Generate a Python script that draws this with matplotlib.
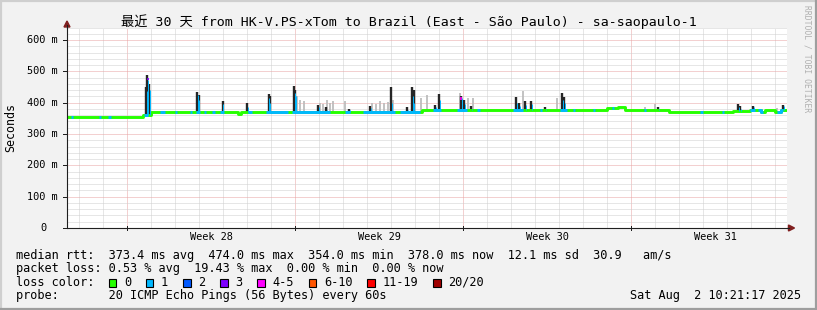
import matplotlib
matplotlib.use("Agg")
import matplotlib.pyplot as plt
import numpy as np
from matplotlib.patches import Polygon, Rectangle

W, H = 817, 310

# ---- data ----
title = "最近 30 天 from HK-V.PS-xTom to Brazil (East - São Paulo) - sa-saopaulo-1"
week_starts = [2.5, 9.5, 16.5, 23.5]          # days since start of the 30-day window
week_labels = ["Week 28", "Week 29", "Week 30", "Week 31"]
y_ticks_ms = [0, 100, 200, 300, 400, 500, 600]
y_tick_labels = ["0", "100 m", "200 m", "300 m", "400 m", "500 m", "600 m"]

# median rtt baseline: level (ms) holding from each start day
base_start = [0.0, 3.15, 3.5, 7.12, 7.25, 14.8, 22.5, 22.96, 23.25, 25.08,
              27.75, 28.45, 28.9, 29.1, 29.5, 29.75]
base_ms = [355, 362, 371, 363, 371, 376, 382, 385, 377, 370,
           372, 378, 371, 378, 371, 377]

# dark smoke spikes: day, top of smoke (ms), median peak (ms)
spike_day = [3.29, 3.35, 3.42, 5.42, 5.48, 6.48, 7.52, 8.40, 8.44, 9.46,
             9.52, 10.46, 10.79, 11.75, 12.63, 13.50, 14.17, 14.38, 14.44, 15.35,
             15.50, 16.42, 16.56, 16.83, 18.71, 18.83, 19.08, 19.33, 19.92, 20.63,
             20.71, 24.63, 27.96, 28.04, 28.58, 29.83]
spike_top = [450, 489, 460, 433, 425, 406, 398, 428, 420, 452,
             440, 392, 385, 381, 390, 449, 385, 450, 440, 392,
             428, 420, 408, 390, 418, 398, 405, 405, 385, 431,
             418, 385, 396, 388, 390, 394]
spike_med = [437, 474, 440, 425, 410, 395, 385, 415, 400, 430,
             420, 385, 378, 376, 383, 400, 378, 420, 400, 385,
             410, 415, 395, 380, 400, 390, 392, 395, 380, 410,
             400, 380, 385, 380, 385, 388]

# light smoke
smoke_day = [9.58, 9.71, 9.88, 10.54, 10.67, 10.83, 10.96, 11.08, 11.58, 12.71,
             12.88, 13.04, 13.21, 13.38, 13.58, 14.75, 14.98, 16.38, 16.71, 16.92,
             18.99, 20.42, 24.08, 24.50, 28.96, 29.58]
smoke_top = [420, 410, 405, 400, 395, 410, 400, 405, 405, 400,
             395, 405, 398, 403, 410, 415, 425, 431, 415, 416,
             438, 415, 385, 396, 380, 383]

# stretches with 1 of 20 pings lost
loss1_start = [0.17, 1.33, 1.71, 3.20, 3.88, 4.50, 5.13, 5.38, 5.71, 6.04,
               6.38, 7.54, 8.29, 9.38, 11.58, 12.33, 13.88, 15.25, 16.25, 17.08,
               18.58, 19.71, 20.54, 21.08, 21.92, 22.71, 24.04, 26.38, 27.29, 28.46,
               28.79, 29.58]
loss1_end = [0.25, 1.42, 1.83, 3.375, 4.08, 4.58, 5.21, 5.54, 5.79, 6.17,
             6.54, 7.71, 9.21, 10.96, 11.79, 13.67, 14.71, 15.58, 16.67, 17.21,
             19.00, 19.79, 20.83, 21.17, 22.0, 22.79, 24.12, 26.50, 27.37, 28.67,
             29.00, 29.83]

# single samples with heavier loss: day, ms, loss class
hi_loss_day = [3.36, 16.42]
hi_loss_ms = [480, 418]
hi_loss_cls = [3, 4]

loss_labels = ["0", "1", "2", "3", "4-5", "6-10", "11-19", "20/20"]
loss_colors = ["#26ff00", "#00b8ff", "#0059ff", "#7e00ff",
               "#ff00ff", "#ff5500", "#ff0000", "#a00000"]

rtt_stats = ["373.4 ms avg", "474.0 ms max", "354.0 ms min",
             "378.0 ms now", "12.1 ms sd", "30.9   am/s"]
loss_stats = ["0.53 % avg", "19.43 % max", "0.00 % min", "0.00 % now"]
probe = "20 ICMP Echo Pings (56 Bytes) every 60s"
stamp = "Sat Aug  2 10:21:17 2025"

# ---- layout (pixels of the 817x310 image) ----
LEFT, RIGHT, TOP, BOTTOM = 67, 787, 27.5, 228
N_DAYS, Y_MAX = 30, 640
MONO = ["DejaVu Sans Mono", "Noto Sans CJK SC"]
LEG_FS = 8.54
CH = 7.14  # legend character advance, px


def fxy(x, y):
    return x / W, 1 - y / H


def base_at(day):
    idx = np.searchsorted(base_start, day, side="right") - 1
    return np.asarray(base_ms)[idx]


def step_points(a, b):
    xs = [a] + [s for s in base_start if a < s < b] + [b]
    ys = [base_at(x) for x in xs]
    return xs, ys


plt.rcParams["font.family"] = MONO
fig = plt.figure(figsize=(W / 100, H / 100), dpi=100)
fig.patch.set_facecolor("#f2f2f2")

ax = fig.add_axes([LEFT / W, 1 - BOTTOM / H, (RIGHT - LEFT) / W, (BOTTOM - TOP) / H])
ax.set_facecolor("white")
ax.set_xlim(0, N_DAYS)
ax.set_ylim(0, Y_MAX)
for side in ["top", "right"]:
    ax.spines[side].set_visible(False)
for side in ["left", "bottom"]:
    ax.spines[side].set_color("#1f1f1f")
    ax.spines[side].set_linewidth(0.8)
    ax.spines[side].set_zorder(10)
ax.set_xticks([])
ax.set_yticks([])

# grid
dots = (0, (1, 1))
for d in np.arange(0.5, N_DAYS, 1.0):
    major = any(abs(d - w) < 1e-6 for w in week_starts)
    ax.axvline(d, color="#e9a3a3" if major else "#cfcfcf", lw=0.72,
               ls=dots, zorder=1)
for v in range(20, Y_MAX + 1, 20):
    major = v % 100 == 0 and v <= 600
    ax.axhline(v, color="#e9a3a3" if major else "#cfcfcf", lw=0.72,
               ls=dots, zorder=1, clip_on=False)

# smoke
ax.vlines(smoke_day, base_at(np.array(smoke_day)), smoke_top,
          color="#bdbdbd", lw=1.3, zorder=2)
ax.vlines(spike_day, base_at(np.array(spike_day)), spike_top,
          color="#262626", lw=1.7, zorder=3)

# median line coloured by loss
xs, ys = step_points(0, N_DAYS)
ax.plot(xs, ys, drawstyle="steps-post", color=loss_colors[0], lw=2.1,
        zorder=4, solid_capstyle="butt")
for a, b in zip(loss1_start, loss1_end):
    sx, sy = step_points(a, b)
    ax.plot(sx, sy, drawstyle="steps-post", color=loss_colors[1], lw=2.1,
            zorder=5, solid_capstyle="butt")
ax.vlines(np.array(spike_day) + 0.03, base_at(np.array(spike_day)), spike_med,
          color=loss_colors[1], lw=0.7, zorder=5)
for d, v, c in zip(hi_loss_day, hi_loss_ms, hi_loss_cls):
    ax.vlines(d, v - 8, v, color=loss_colors[c], lw=1.2, zorder=6)

# axis labels
for v, lab in zip(y_ticks_ms, y_tick_labels):
    xr = 58 if lab.endswith("m") else 46.5
    ax.text((xr - LEFT) / (RIGHT - LEFT), v, lab, transform=ax.get_yaxis_transform(),
            ha="right", va="center", fontsize=7.35, color="black")
    ax.plot([-4 / (RIGHT - LEFT), 0], [v, v], transform=ax.get_yaxis_transform(),
            color="#1f1f1f", lw=0.72, clip_on=False)
for w, lab in zip(week_starts, week_labels):
    ax.text(w + 3.5, (BOTTOM - 240.5) / (BOTTOM - TOP), lab,
            transform=ax.get_xaxis_transform(), ha="center", va="baseline",
            fontsize=7.35)
    ax.plot([w, w], [-2 / (BOTTOM - TOP), 2 / (BOTTOM - TOP)],
            transform=ax.get_xaxis_transform(), color="#1f1f1f", lw=0.72,
            clip_on=False)

# arrows
arrow_col = "#801f1f"
fig.add_artist(plt.Line2D([fxy(RIGHT, 0)[0], fxy(789, 0)[0]], [fxy(0, BOTTOM)[1]] * 2,
                          color="#1f1f1f", lw=0.8, transform=fig.transFigure))
fig.add_artist(plt.Line2D([fxy(LEFT, 0)[0]] * 2, [fxy(0, TOP)[1], fxy(0, 25)[1]],
                          color="#1f1f1f", lw=0.8, transform=fig.transFigure))
fig.add_artist(Polygon([fxy(788.5, 225), fxy(794.5, 228), fxy(788.5, 231)],
                       closed=True, color=arrow_col, transform=fig.transFigure))
fig.add_artist(Polygon([fxy(64, 27), fxy(67, 21), fxy(70, 27)],
                       closed=True, color=arrow_col, transform=fig.transFigure))

# frame shading
for (x0, y0, x1, y1, c) in [(0, 0.5, W, 0.5, "#cfcfcf"), (0.5, 0, 0.5, H, "#cfcfcf"),
                             (0, H - 1, W, H - 1, "#9e9e9e"), (W - 1, 0, W - 1, H, "#9e9e9e")]:
    fig.add_artist(plt.Line2D([x0 / W, x1 / W], [1 - y0 / H, 1 - y1 / H], color=c,
                              lw=1.6, transform=fig.transFigure))

# texts
fig.text(*fxy(408.5, 26), title, ha="center", va="baseline", fontsize=9.56,
         family=MONO)
fig.text(*fxy(11, 127), "Seconds", rotation=90, ha="center", va="center",
         fontsize=8.4)
fig.text(*fxy(807, 59), "RRDTOOL / TOBI OETIKER", rotation=-90, ha="center",
         va="center", fontsize=5.8, color="#b0b0b0")

LX = 16
rows = [258.5, 272, 285.5, 299]
line1 = "median rtt:  " + "  ".join(rtt_stats)
line2 = "packet loss: " + "  ".join(loss_stats)
fig.text(*fxy(LX, rows[0]), line1, va="baseline", fontsize=LEG_FS)
fig.text(*fxy(LX, rows[1]), line2, va="baseline", fontsize=LEG_FS)
fig.text(*fxy(LX, rows[2]), "loss color:", va="baseline", fontsize=LEG_FS)
bx = LX + 13 * CH
for lab, col in zip(loss_labels, loss_colors):
    fig.add_artist(Rectangle(fxy(bx, 286.5), 7.5 / W, 7.5 / H, facecolor=col,
                             edgecolor="black", lw=0.8, transform=fig.transFigure))
    fig.text(*fxy(bx + 15, rows[2]), lab, va="baseline", fontsize=LEG_FS)
    bx += 30 + len(lab) * CH
fig.text(*fxy(LX, rows[3]), "probe:       " + probe, va="baseline", fontsize=LEG_FS)
fig.text(*fxy(801, rows[3]), stamp, ha="right", va="baseline", fontsize=LEG_FS)

fig.savefig("out.png", dpi=100, facecolor=fig.get_facecolor())
